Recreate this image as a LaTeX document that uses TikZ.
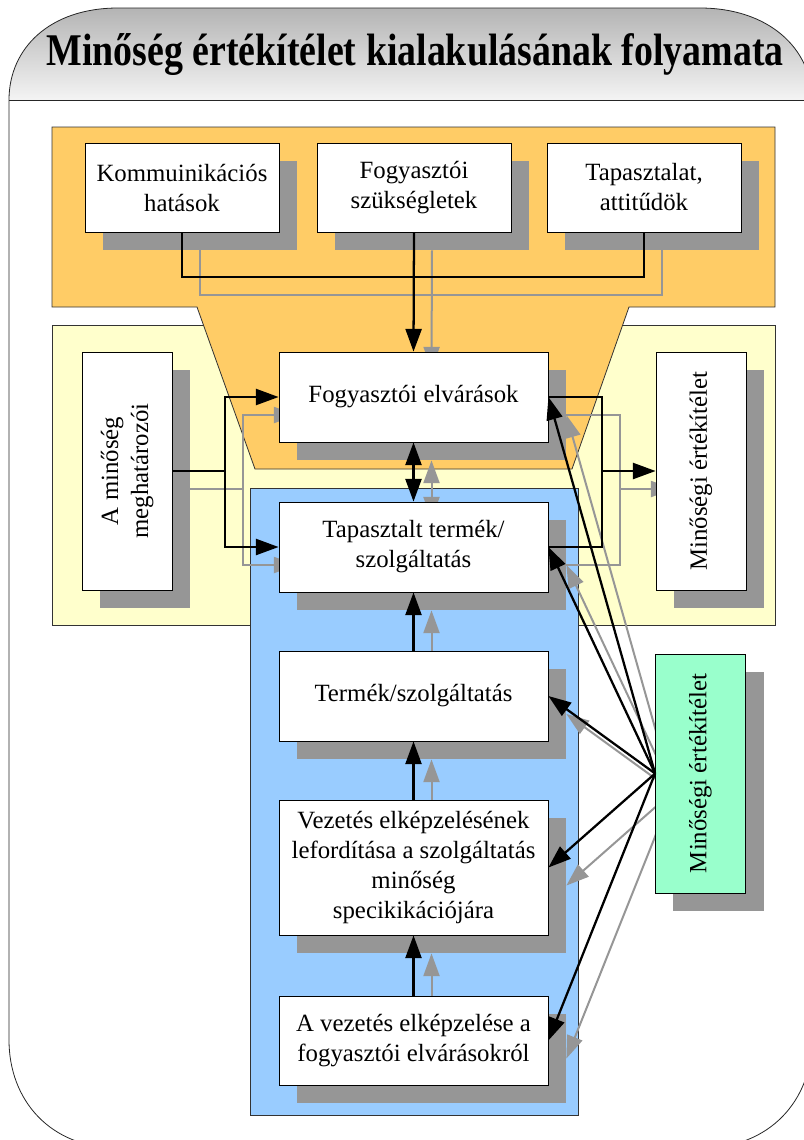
\documentclass[tikz,border=0pt]{standalone}
\usepackage{fontspec}
\setmainfont{Liberation Serif}
\usetikzlibrary{arrows.meta,calc}
\pgfdeclarelayer{regions}
\pgfdeclarelayer{shadows}
\pgfsetlayers{regions,shadows,main}
\definecolor{orangefill}{HTML}{FFCC66}
\definecolor{yellowfill}{HTML}{FFFFCC}
\definecolor{bluefill}{HTML}{99CCFF}
\definecolor{greenfill}{HTML}{99FFCC}
\definecolor{shgray}{HTML}{969696}
\definecolor{hdtop}{HTML}{B4B4B4}
\definecolor{hdbot}{HTML}{F4F4F4}
\tikzset{
  box/.style={draw=black, line width=0.6pt, fill=white, align=center, inner sep=0pt,
    font=\fontsize{18.6}{22.5}\selectfont},
  topbox/.style={box, minimum width=145.5pt, minimum height=66.75pt},
  midbox/.style={box, minimum width=201.75pt, minimum height=67.5pt},
  tallbox/.style={box, minimum width=67.5pt, minimum height=178.5pt},
  region/.style={draw=black!80, line width=0.6pt},
  frameline/.style={draw=black!85, line width=0.6pt},
  bkline/.style={draw=black, line width=1.7pt},
  shline/.style={draw=shgray, line width=1.5pt},
  >={Triangle[length=17pt,width=12pt]}
}
% a connector with its offset grey shadow
\newcommand\twin[2]{%
  \begin{pgfonlayer}{shadows}
    \draw[shline,#1,transform canvas={shift={(13.5pt,-13.5pt)}}] #2;
  \end{pgfonlayer}
  \draw[bkline,#1] #2;}
\begin{document}
\begin{tikzpicture}[x=0.75pt,y=-0.75pt]
\useasboundingbox (0,0) rectangle (804,1140);

% outer frame with shaded header
\begin{pgfonlayer}{regions}
  \shade[top color=hdtop, bottom color=hdbot]
    (9,100) .. controls (9,48) and (50,8) .. (118,8) -- (700,8)
    .. controls (768,8) and (812,48) .. (812,100) -- cycle;
  \draw[frameline] (9,1040) -- (9,100) .. controls (9,48) and (50,8) .. (118,8) -- (700,8)
    .. controls (768,8) and (812,48) .. (812,100) -- (812,1040)
    .. controls (812,1100) and (770,1148) .. (702,1148) -- (118,1148)
    .. controls (50,1148) and (9,1100) .. (9,1040);
  \draw[frameline] (9,100) -- (812,100);

  % coloured background areas
  \draw[region, fill=yellowfill] (52,325) rectangle (775,625);
  \draw[region, fill=orangefill] (52,127) -- (775,127) -- (775,307) -- (629,307)
    -- (572,469) -- (255,469) -- (197,307) -- (52,307) -- cycle;
  \draw[region, fill=bluefill] (250,488) rectangle (578,1115);
\end{pgfonlayer}

% title
\node[font=\fontsize{34}{40}\selectfont\bfseries, anchor=base, inner sep=0pt] (title) at (415,65)
  {\scalebox{0.835}[1]{Minőség értékítélet kialakulásának folyamata}};

% boxes
\node[topbox] (K) at (182,187.5) {Kommuinikációs\\hatások};
\node[topbox] (F) at (414,187.5) {Fogyasztói\\szükségletek};
\node[topbox] (T) at (644,187.5) {Tapasztalat,\\attitűdök};
\node[midbox] (FE) at (413.5,397) {Fogyasztói elvárások};
\node[midbox] (TT) at (413.5,547) {Tapasztalt termék/\\szolgáltatás};
\node[midbox] (TS) at (413.5,696) {Termék/szolgáltatás};
\node[midbox, minimum height=101.25pt] (VE) at (413.5,867.5)
  {Vezetés elképzelésének\\lefordítása a szolgáltatás\\minőség\\specikikációjára};
\node[midbox, minimum height=66.75pt] (AV) at (413.5,1040.5)
  {A vezetés elképzelése a\\fogyasztói elvárásokról};
\node[tallbox] (AM) at (127,471)
  {\rotatebox{90}{\begin{tabular}{@{}c@{}}A minőség\\meghatározói\end{tabular}}};
\node[tallbox] (ME1) at (701,471) {\rotatebox{90}{Minőségi értékítélet}};
\node[tallbox, fill=greenfill, minimum height=179.25pt] (ME2) at (700.5,773.5)
  {\rotatebox{90}{Minőségi értékítélet}};

% box shadows
\begin{pgfonlayer}{shadows}
  \foreach \n in {K,F,T,FE,TT,TS,VE,AV,AM,ME1,ME2}
    \fill[shgray] ([shift={(18,18)}]\n.south west) rectangle ([shift={(18,18)}]\n.north east);
\end{pgfonlayer}

% junction points
\coordinate (jT) at (414,277);
\coordinate (jL) at (225,471);
\coordinate (jR) at (602,471);

% connectors
\twin{}{(K.south) |- (jT) -| (T.south)}
\twin{->}{(F.south) -- (FE.north)}
\twin{->}{(AM.east) -- (jL) |- (FE.west)}
\twin{->}{(jL) |- (TT.west)}
\twin{<->}{(FE.south) -- (TT.north)}
\twin{}{(FE.east) -| (jR) |- (TT.east)}
\twin{->}{(jR) -- (ME1.west)}
\twin{->}{(TS.north) -- (TT.south)}
\twin{->}{(VE.north) -- (TS.south)}
\twin{->}{(AV.north) -- (VE.south)}
\twin{->}{(ME2.west) -- (FE.east)}
\twin{->}{(ME2.west) -- (TT.east)}
\twin{->}{(ME2.west) -- (TS.east)}
\twin{->}{(ME2.west) -- (VE.east)}
\twin{->}{(ME2.west) -- (AV.east)}
\end{tikzpicture}
\end{document}
